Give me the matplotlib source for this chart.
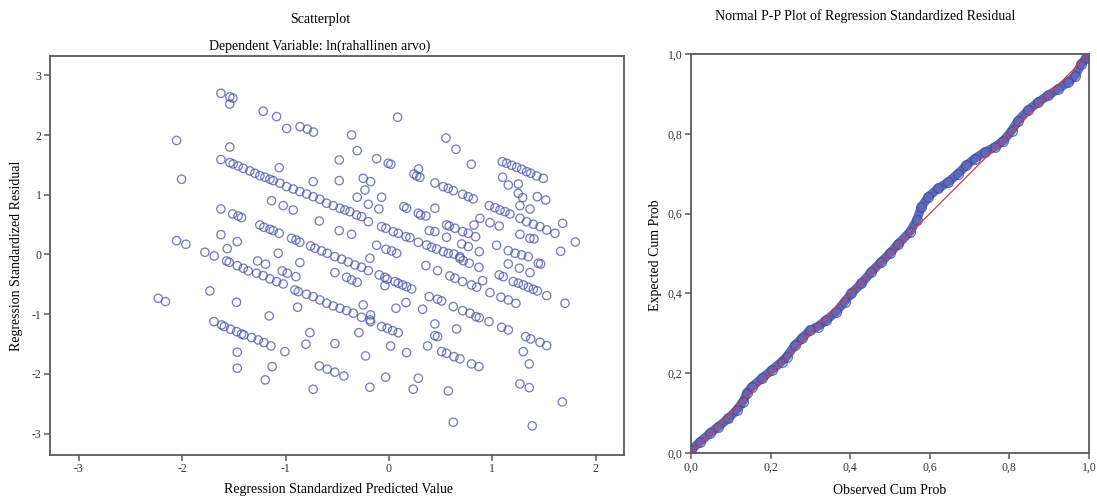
import matplotlib
matplotlib.use("Agg")
import matplotlib.pyplot as plt

# Scatterplot: (standardized predicted value, standardized residual)
scatter_points = [
    (-1.626, 2.70), (-1.54, 2.64), (-1.51, 2.62), (-1.54, 2.52), (-1.217, 2.40),
    (-1.087, 2.31), (-0.99, 2.11), (-0.86, 2.14), (-0.79, 2.10), (-0.73, 2.05),
    (-2.055, 1.91), (-1.54, 1.80), (-1.626, 1.59),
    (-1.539, 1.538), (-1.507, 1.516), (-1.459, 1.482), (-1.41, 1.443), (-1.346, 1.399),
    (-1.297, 1.36), (-1.249, 1.32), (-1.2, 1.293), (-1.152, 1.26), (-1.12, 1.237),
    (-1.055, 1.193), (-0.99, 1.136), (-0.926, 1.097), (-0.862, 1.052), (-0.797, 1.013),
    (-0.733, 0.968), (-0.668, 0.925), (-0.603, 0.858), (-0.539, 0.818), (-0.474, 0.774),
    (-1.062, 1.454), (-0.733, 1.22), (-2.007, 1.26), (-1.626, 0.762),
    (-1.513, 0.678), (-1.459, 0.645), (-1.426, 0.617), (-1.136, 0.901), (-1.023, 0.818),
    (-0.926, 0.745), (-0.674, 0.561), (-1.626, 0.332), (-1.468, 0.215), (-1.565, 0.097),
    (-2.055, 0.231), (-1.965, 0.171),
    (-1.249, 0.494), (-1.21, 0.456), (-1.152, 0.422), (-1.12, 0.399), (-1.062, 0.355),
    (-0.942, 0.271), (-0.9, 0.243), (-0.862, 0.204), (-0.758, 0.142), (-0.716, 0.104),
    (-0.651, 0.059), (-0.597, 0.02), (-0.523, -0.037),
    (-1.071, 0.02), (-0.481, 1.583), (-0.481, 1.237), (-0.481, 0.399),
    (-1.781, 0.037), (-1.691, -0.025), (-1.571, -0.109), (-1.546, -0.131),
    (-1.468, -0.188), (-1.41, -0.231), (-1.362, -0.276), (-1.281, -0.315), (-1.217, -0.355),
    (-1.152, -0.41), (-1.087, -0.456), (-1.023, -0.494),
    (-1.271, -0.109), (-1.194, -0.164), (-1.033, -0.276), (-0.984, -0.315),
    (-0.862, -0.137), (-0.9, -0.372),
    (-0.91, -0.595), (-0.878, -0.623), (-0.797, -0.667), (-0.733, -0.707), (-0.668, -0.762),
    (-0.603, -0.817), (-0.539, -0.863), (-0.474, -0.901),
    (-0.884, -0.885), (-0.523, -0.305), (-1.733, -0.611), (-2.233, -0.734), (-2.162, -0.79),
    (-1.475, -0.801), (-1.159, -1.03),
    (-1.694, -1.125), (-1.619, -1.181), (-1.594, -1.209), (-1.532, -1.253), (-1.474, -1.293),
    (-1.426, -1.332), (-1.404, -1.348), (-1.329, -1.394), (-1.265, -1.432), (-1.21, -1.477),
    (-1.142, -1.533),
    (-1.007, -1.628), (-0.765, -1.31), (-0.803, -1.504), (-0.523, -1.494), (-1.468, -1.638),
    (-1.468, -1.906), (-1.13, -1.879), (-1.197, -2.102),
    (-0.674, -1.868), (-0.597, -1.923), (-0.523, -1.973), (-0.733, -2.258),
    (0.084, 2.298), (-0.361, 2.002), (0.552, 1.951), (0.649, 1.762), (-0.307, 1.739),
    (-0.119, 1.605), (-0.007, 1.528), (0.019, 1.511), (0.797, 1.511), (0.287, 1.432),
    (0.242, 1.348), (0.268, 1.315), (0.300, 1.293),
    (1.097, 1.554), (1.139, 1.528), (1.188, 1.494), (1.236, 1.461), (1.285, 1.427),
    (1.333, 1.387), (1.372, 1.36), (1.43, 1.315), (1.494, 1.276),
    (-0.249, 1.276), (-0.177, 1.22), (-0.232, 1.08), (-0.307, 0.958), (-0.071, 0.958),
    (-0.2, 0.841), (-0.097, 0.762), (0.445, 1.198),
    (0.526, 1.136), (0.574, 1.108), (0.623, 1.069), (0.713, 1.008), (0.768, 0.968), (0.816, 0.93),
    (1.1, 1.293), (1.155, 1.164), (1.252, 1.181), (1.252, 1.025), (1.294, 0.952),
    (1.436, 0.968), (1.517, 0.913), (1.268, 0.818), (1.365, 0.762),
    (-0.426, 0.745), (-0.378, 0.717), (-0.313, 0.662), (-0.265, 0.633), (-0.2, 0.549),
    (0.145, 0.801), (0.171, 0.774), (0.284, 0.69), (0.307, 0.662), (0.358, 0.645),
    (0.445, 0.774), (-0.361, 0.338),
    (-0.071, 0.466), (-0.029, 0.439), (0.042, 0.382), (0.09, 0.355),
    (0.39, 0.399), (0.445, 0.382), (0.165, 0.298), (0.203, 0.281), (0.284, 0.204),
    (-0.119, 0.154), (-0.029, 0.087), (0.026, 0.059), (0.075, 0.02),
    (0.558, 0.494), (0.584, 0.477), (0.639, 0.439), (0.713, 0.382), (0.768, 0.355), (0.839, 0.298),
    (0.558, 0.288), (0.823, 0.494), (0.881, 0.606), (0.978, 0.533), (1.068, 0.477),
    (0.971, 0.818), (1.026, 0.784), (1.075, 0.745), (1.123, 0.717), (1.171, 0.678),
    (1.268, 0.606), (1.333, 0.549), (1.397, 0.506), (1.462, 0.466), (1.527, 0.41), (1.607, 0.355),
    (1.681, 0.522), (1.268, 0.338), (1.365, 0.271), (1.404, 0.26), (1.804, 0.209),
    (0.704, 0.176), (0.768, 0.131), (0.875, 0.047), (1.042, 0.154),
    (1.155, 0.064), (1.22, 0.02), (1.285, -0.008), (1.349, -0.037), (1.662, 0.053),
    (0.365, 0.159), (0.413, 0.12), (0.462, 0.092), (0.526, 0.047), (0.574, 0.02),
    (0.629, 0.008), (0.687, -0.037),
    (-0.458, -0.08), (-0.394, -0.126), (-0.329, -0.176), (-0.265, -0.214), (-0.2, -0.271),
    (-0.184, -0.064), (-0.41, -0.382), (-0.361, -0.427), (-0.307, -0.466),
    (-0.094, -0.343), (-0.039, -0.382), (-0.016, -0.415), (-0.039, -0.522),
    (0.058, -0.455), (0.09, -0.482), (0.133, -0.511), (0.171, -0.539), (0.22, -0.578),
    (0.358, -0.188), (0.471, -0.271), (0.59, -0.36), (0.639, -0.399), (0.713, -0.455),
    (0.8, -0.511), (0.849, -0.549), (0.907, -0.439), (0.687, -0.064), (0.719, -0.104),
    (0.777, -0.148), (0.871, -0.215), (0.978, -0.639), (1.155, -0.159), (1.262, -0.231),
    (1.365, -0.305), (1.445, -0.148), (1.468, -0.159), (1.068, -0.343), (1.107, -0.372),
    (1.203, -0.455), (1.252, -0.482), (1.3, -0.511), (1.349, -0.549), (1.397, -0.583), (1.436, -0.611),
    (1.527, -0.69), (1.704, -0.818), (1.084, -0.717), (1.155, -0.762), (1.229, -0.818),
    (-0.41, -0.941), (-0.345, -0.985), (-0.265, -1.052), (-0.184, -1.097),
    (-0.249, -0.846), (-0.177, -1.013), (-0.177, -1.126), (-0.29, -1.31), (-0.226, -1.70),
    (-0.071, -1.209), (-0.016, -1.236), (0.036, -1.276), (0.09, -1.31),
    (0.068, -0.901), (0.165, -0.807), (0.016, -1.533), (0.171, -1.645), (0.326, -0.918),
    (0.39, -0.707), (0.471, -0.75), (0.51, -0.779), (0.623, -0.874),
    (0.713, -0.941), (0.784, -0.985), (0.842, -1.042), (0.874, -1.059), (0.968, -1.126),
    (1.091, -1.22), (1.155, -1.265), (0.445, -1.164), (0.445, -1.36), (0.471, -1.377),
    (0.655, -1.248), (0.374, -1.533),
    (0.51, -1.628), (0.558, -1.655), (0.629, -1.712), (0.687, -1.75), (0.8, -1.834), (0.871, -1.879),
    (1.323, -1.377), (1.372, -1.415), (1.462, -1.471), (1.527, -1.527), (1.3, -1.628), (1.358, -1.834),
    (-0.436, -2.035), (-0.184, -2.225), (-0.032, -2.057), (0.235, -2.258), (0.284, -2.074),
    (0.574, -2.287), (0.623, -2.811), (1.268, -2.169), (1.358, -2.231), (1.678, -2.471),
    (1.387, -2.873),
]
scatter_xticks = [-3, -2, -1, 0, 1, 2]
scatter_yticks = [-3, -2, -1, 0, 1, 2, 3]

# Normal P-P plot
pp_observed = [0.0, .023, .048, .069, .094, .115, .131, .14, .153, .178, .203, .228, .24,
               .261, .278, .299, .319, .34, .365, .386, .403, .428, .453, .478, .499, .521,
               .55, .567, .579, .596, .621, .646, .671, .692, .713, .738, .764, .785, .806,
               .822, .847, .872, .897, .922, .947, .965, .98, .993, 1.0]
pp_expected = [.0075, .028, .05, .066, .087, .108, .129, .15, .166, .187, .208, .229, .241,
               .27, .287, .308, .317, .333, .354, .379, .40, .425, .454, .479, .50, .524,
               .554, .583, .617, .642, .663, .679, .70, .721, .738, .754, .767, .783, .808,
               .833, .859, .879, .896, .912, .929, .945, .974, .99, 1.0]
pp_ticks = [0.0, 0.2, 0.4, 0.6, 0.8, 1.0]
pp_ticklabels = ['0,0', '0,2', '0,4', '0,6', '0,8', '1,0']

plt.rcParams['font.family'] = ['Liberation Serif', 'DejaVu Serif']
plt.rcParams['axes.unicode_minus'] = False
spineColor = '#5a5a5a'
pointColor = '#4a53ad'

fig = plt.figure(figsize=(10.97, 4.97), dpi=100)
W, H = 1097.0, 497.0


def styleAxes(ax):
    for s in ax.spines.values():
        s.set_color(spineColor)
        s.set_linewidth(1.3)
    ax.tick_params(direction='out', length=4, width=1.1, color=spineColor,
                   labelsize=8.5, pad=2, labelcolor='#333333')


# Left: scatterplot
ax1 = fig.add_axes([50 / W, 1 - 455 / H, 574 / W, 399 / H])
px = [p[0] for p in scatter_points]
py = [p[1] for p in scatter_points]
ax1.scatter(px, py, s=36, facecolors='none', edgecolors=pointColor,
            linewidths=0.95, alpha=0.75)
ax1.set_xlim(-3.28, 2.275)
ax1.set_ylim(-3.36, 3.325)
ax1.set_xticks(scatter_xticks)
ax1.set_yticks(scatter_yticks)
styleAxes(ax1)

fig.text(320 / W, 1 - 20 / H, 'Scatterplot', ha='center', va='center', fontsize=10)
fig.text(320 / W, 1 - 46 / H, 'Dependent Variable: ln(rahallinen arvo)',
         ha='center', va='center', fontsize=10)
fig.text(338 / W, 1 - 489 / H, 'Regression Standardized Predicted Value',
         ha='center', va='center', fontsize=10)
fig.text(17 / W, 1 - 256 / H, 'Regression Standardized Residual',
         ha='center', va='center', rotation=90, fontsize=10)

# Right: normal P-P plot
ax2 = fig.add_axes([691 / W, 1 - 453 / H, 398 / W, 399 / H])
ax2.plot(pp_observed, pp_expected, color='#5661b3', linewidth=6.5, alpha=0.95,
         solid_capstyle='round', solid_joinstyle='round', zorder=2)
ax2.plot(pp_observed, pp_expected, linestyle='none', marker='o', markersize=7,
         markerfacecolor='none', markeredgecolor='#414ca3', markeredgewidth=0.9,
         alpha=0.8, zorder=3)
ax2.plot([0, 1], [0, 1], color='#e0393e', linewidth=0.9, zorder=4)
ax2.set_xlim(0, 1)
ax2.set_ylim(0, 1)
ax2.set_xticks(pp_ticks)
ax2.set_xticklabels(pp_ticklabels)
ax2.set_yticks(pp_ticks)
ax2.set_yticklabels(pp_ticklabels)
styleAxes(ax2)

fig.text(865 / W, 1 - 16 / H, 'Normal P-P Plot of Regression Standardized Residual',
         ha='center', va='center', fontsize=10)
fig.text(890 / W, 1 - 490 / H, 'Observed Cum Prob', ha='center', va='center', fontsize=10)
fig.text(655 / W, 1 - 255 / H, 'Expected Cum Prob', ha='center', va='center',
         rotation=90, fontsize=10)

fig.savefig('out.png', dpi=100)
